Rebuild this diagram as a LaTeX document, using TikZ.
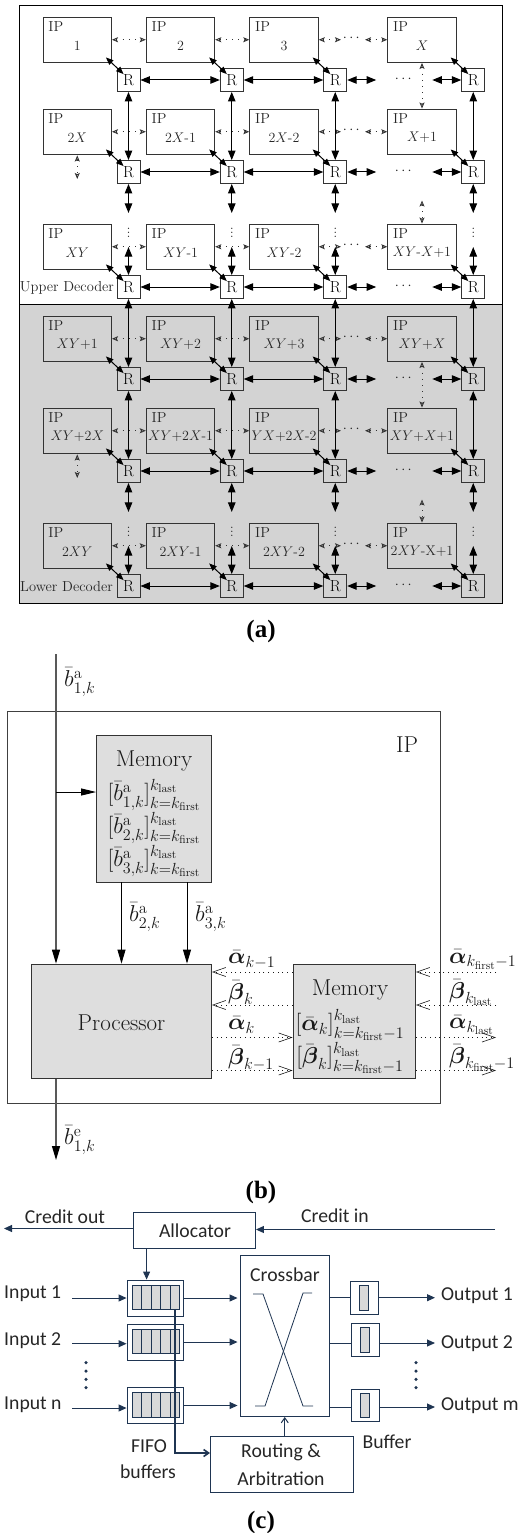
\documentclass[tikz,border=0pt]{standalone}
\usepackage{fix-cm}
\usepackage{amsmath}
\usepackage[no-math]{fontspec}
\usepackage{xcolor}
\usepackage{tikz}
\usetikzlibrary{arrows.meta, calc}
\newfontfamily\slidefont{Carlito}
\newfontfamily\capfont{Liberation Serif Bold}
\definecolor{decodergray}{HTML}{D3D3D3}
\definecolor{memgray}{HTML}{DEDEDE}
\definecolor{cellgray}{HTML}{D9D9D9}
\definecolor{routernavy}{HTML}{1F3552}
\newcommand{\memrow}[1]{$[\bar{b}^{\mathrm{a}}_{#1,k}]_{k=k_{\mathrm{first}}}^{k_{\mathrm{last}}}$}
\tikzset{
    ipbox/.style={draw=black!80, line width=0.9pt, minimum width=68.5pt, minimum height=45.5pt, inner sep=0pt},
    rbox/.style={draw=black!80, line width=0.9pt, minimum width=23pt, minimum height=23pt, inner sep=0pt, font=\fontsize{16}{16}\selectfont},
    iptext/.style={inner sep=0pt, text=black!85, font=\fontsize{14.5}{15}\selectfont},
    blocktext/.style={inner sep=0pt, text=black!90, font=\fontsize{23}{24}\selectfont},
    linklab/.style={blocktext, anchor=west},
    bidir/.style={line width=1pt, {Stealth[inset=0pt,length=9.5pt,width=7.5pt]}-{Stealth[inset=0pt,length=9.5pt,width=7.5pt]}},
    bidirs/.style={line width=1pt, {Stealth[inset=0pt,length=7.5pt,width=6pt]}-{Stealth[inset=0pt,length=7.5pt,width=6pt]}},
    ipdots/.style={dash pattern=on 1pt off 5.2pt, line width=0.9pt, black!80, {Stealth[open,length=6pt,width=5pt,inset=1.2pt]}-{Stealth[open,length=6pt,width=5pt,inset=1.2pt]}},
    membox/.style={draw=black!80, fill=memgray, line width=0.8pt, inner sep=0pt},
    flowline/.style={line width=0.9pt, black!85, -{Stealth[inset=0pt,length=11pt,width=7pt]}},
    dotflow/.style={dash pattern=on 1pt off 3.7pt, line width=0.9pt, black!90, -{Straight Barb[length=13pt,width=9pt,line width=0.6pt]}},
    navybox/.style={draw=routernavy, line width=0.9pt, inner sep=0pt},
    navyline/.style={routernavy, line width=1pt},
    navyflow/.style={routernavy, line width=1pt, -{Stealth[inset=0pt,length=8pt,width=7pt]}},
    navybarb/.style={routernavy, line width=1pt, -{Straight Barb[length=5pt,width=7pt]}},
    slidetext/.style={inner sep=0pt, text=black!85, font=\slidefont\fontsize{19.7}{20}\selectfont},
    navydot/.style={circle, fill=routernavy, minimum size=3.5pt, inner sep=0pt},
    captext/.style={inner sep=0pt, font=\capfont\fontsize{25}{26}\selectfont}
}

\begin{document}
\begin{tikzpicture}[x=1pt, y=-1pt]
    \useasboundingbox (0,0) rectangle (519,1533);

    \node[draw=black, line width=0.9pt, minimum width=482.5pt, minimum height=299pt, inner sep=0pt] (upperdec) at (260.75,154.5) {};
    \node[draw=black, fill=decodergray, line width=0.9pt, minimum width=482.5pt, minimum height=299pt, inner sep=0pt] (lowerdec) at (260.75,453.5) {};

    \foreach \r/\yy/\la/\lb/\lc/\ld in {
        1/39.75/{1}/{2}/{3}/{$X$},
        2/131.75/{$2X$}/{$2X$-1}/{$2X$-2}/{$X${+}1},
        3/246.75/{$XY$}/{$XY$-1}/{$XY$-2}/{$XY$-$X${+}1},
        4/338.75/{$XY${+}1}/{$XY${+}2}/{$XY${+}3}/{$XY${+}$X$},
        5/430.75/{$XY${+}$2X$}/{$XY${+}$2X$-1}/{$YX${+}$2X$-2}/{$XY${+}$X${+}1},
        6/545.75/{$2XY$}/{$2XY$-1}/{$2XY$-2}/{$2XY$-X+1}} {
        \foreach \c/\xx/\rx/\lab in {1/77.25/128.5/\la, 2/180.5/232/\lb, 3/284/335.5/\lc, 4/422/473.5/\ld} {
            \node[ipbox] (ip\r\c) at (\xx,\yy) {};
            \node[iptext] (ipt\r\c) at ([xshift=13.3pt,yshift=-10pt]ip\r\c.north west) {IP};
            \node[iptext, font=\fontsize{14}{14}\selectfont] (ipn\r\c) at ([yshift=-6pt]ip\r\c.center) {\lab};
            \node[rbox] (r\r\c) at ([shift={(51.25pt,-40.25pt)}]ip\r\c.center) {R};
            \draw[bidirs] ([shift={(-6pt,5.5pt)}]ip\r\c.south east) -- ([shift={(7pt,-6pt)}]r\r\c.north west);
        }
        \foreach \c/\d in {1/2,2/3} {
            \draw[ipdots] (ip\r\c.east) -- (ip\r\d.west);
            \draw[bidir] (r\r\c.east) -- (r\r\d.west);
        }
        \coordinate (ipa\r) at (341,\yy);
        \coordinate (ipb\r) at (365,\yy);
        \draw[ipdots] (ip\r3.east) -- (ipa\r);
        \draw[ipdots] (ipb\r) -- (ip\r4.west);
        \node[iptext] (ipc\r) at (352.5,\yy-1) {$\cdots$};
        \path (r\r3.east) -- ++(29,0) coordinate (ra\r);
        \path (r\r4.west) -- ++(-29,0) coordinate (rb\r);
        \draw[bidir] (r\r3.east) -- (ra\r);
        \draw[bidir] (rb\r) -- (r\r4.west);
        \node[iptext] (rc\r) at (404.5,\yy+39.5) {$\cdots$};
    }

    \foreach \c in {1,2,3,4} {
        \draw[bidir] (r1\c.south) -- (r2\c.north);
        \draw[bidir] (r3\c.south) -- (r4\c.north);
        \draw[bidir] (r4\c.south) -- (r5\c.north);
        \foreach \a/\b in {2/3,5/6} {
            \path (r\a\c.south) -- ++(0,29) coordinate (sa\a\c);
            \path (r\b\c.north) -- ++(0,-28) coordinate (sb\a\c);
            \draw[bidir] (r\a\c.south) -- (sa\a\c);
            \draw[bidir] (sb\a\c) -- (r\b\c.north);
            \node[iptext, font=\fontsize{16}{16}\selectfont] (vd\a\c) at ($(r\a\c.center)+(0,58)$) {$\vdots$};
        }
    }

    \foreach \a/\b in {1/2,4/5} {
        \draw[ipdots] (ip\a4.south) -- (ip\b4.north);
        \path (ip\b1.south) -- ++(0,0.5) coordinate (ua\b);
        \path (ip\b1.south) -- ++(0,24) coordinate (ub\b);
        \draw[ipdots] (ua\b) -- (ub\b);
    }
    \foreach \b/\c in {2/3,5/6} {
        \path (ip\c4.north) -- ++(0,-23) coordinate (ud\c);
        \draw[ipdots] (ud\c) -- (ip\c4.north);
    }

    \node[iptext] (upperlab) at (67,288) {Upper Decoder};
    \node[iptext] (lowerlab) at (66.5,587) {Lower Decoder};
    \node[captext] (capa) at (261,631) {(a)};

    \node[draw=black!75, line width=1pt, minimum width=433pt, minimum height=392pt, inner sep=0pt] (ipouter) at (223.5,907) {};
    \node[blocktext] (iplab) at (407,745) {IP};
    \node[membox, minimum width=115pt, minimum height=147pt] (memtop) at (154,808.5) {};
    \node[blocktext] (memtoplab) at (154,760.5) {Memory};
    \foreach \m/\my in {1/795,2/828,3/861} {
        \node[blocktext] (memr\m) at (154,\my) {\memrow{\m}};
    }
    \node[membox, minimum width=180pt, minimum height=114.5pt] (procb) at (121.5,1021.25) {};
    \node[blocktext] (proclab) at (121.5,1023) {Processor};
    \node[membox, minimum width=122.5pt, minimum height=114.5pt] (memright) at (354.25,1021.25) {};
    \node[blocktext] (memrightlab) at (350,990) {Memory};
    \node[blocktext] (memra) at (350,1025) {$[\bar{\boldsymbol{\alpha}}_k]_{k=k_{\mathrm{first}}-1}^{k_{\mathrm{last}}}$};
    \node[blocktext] (memrb) at (350,1058) {$[\bar{\boldsymbol{\beta}}_k]_{k=k_{\mathrm{first}}-1}^{k_{\mathrm{last}}}$};

    \coordinate (bin) at (56,654);
    \coordinate (bout) at (56,1160);
    \coordinate (bjoin) at (56,792);
    \draw[flowline, black!65, line width=1.2pt, -{Stealth[inset=0pt,length=14pt,width=8pt,black]}] (bin) -- (bin |- procb.north);
    \draw[flowline, black!65, line width=1.2pt, -{Stealth[inset=0pt,length=14pt,width=8pt,black]}] (bin |- procb.south) -- (bout);
    \draw[flowline, black, -{Stealth[inset=0pt,length=15pt,width=7pt]}] (bjoin) -- (bjoin -| memtop.west);
    \foreach \m/\fx in {two/121.5,three/187} {
        \coordinate (fd\m) at (\fx,900);
        \draw[flowline, black, -{Stealth[inset=0pt,length=14pt,width=8pt]}] (fd\m |- memtop.south) -- (fd\m |- procb.north);
    }
    \node[linklab] (lbin) at (64,682) {$\bar{b}^{\mathrm{a}}_{1,k}$};
    \node[linklab] (lbtwo) at (129,917) {$\bar{b}^{\mathrm{a}}_{2,k}$};
    \node[linklab] (lbthree) at (195,917) {$\bar{b}^{\mathrm{a}}_{3,k}$};
    \node[linklab] (lbout) at (64,1140) {$\bar{b}^{\mathrm{e}}_{1,k}$};

    \foreach \n/\ly/\llab/\rlab in {
        1/972/{$\bar{\boldsymbol{\alpha}}_{k-1}$}/{$\bar{\boldsymbol{\alpha}}_{k_{\mathrm{first}}-1}$},
        2/1005/{$\bar{\boldsymbol{\beta}}_{k}$}/{$\bar{\boldsymbol{\beta}}_{k_{\mathrm{last}}}$},
        3/1037.5/{$\bar{\boldsymbol{\alpha}}_{k}$}/{$\bar{\boldsymbol{\alpha}}_{k_{\mathrm{last}}}$},
        4/1070.5/{$\bar{\boldsymbol{\beta}}_{k-1}$}/{$\bar{\boldsymbol{\beta}}_{k_{\mathrm{first}}-1}$}} {
        \coordinate (lev\n) at (496,\ly);
        \node[linklab] (ll\n) at (228,\ly-12.5) {\llab};
        \node[linklab] (rl\n) at (449,\ly-12.5) {\rlab};
    }
    \foreach \n in {1,2} {
        \draw[dotflow] (lev\n -| memright.west) -- (lev\n -| procb.east);
        \draw[dotflow] (lev\n) -- (lev\n -| memright.east);
    }
    \foreach \n in {3,4} {
        \draw[dotflow] (lev\n -| procb.east) -- (lev\n -| memright.west);
        \draw[dotflow] (lev\n -| memright.east) -- (lev\n);
    }
    \node[captext] (capb) at (261,1192) {(b)};

    \node[navybox, minimum width=122pt, minimum height=36pt] (alloc) at (194.5,1230.5) {};
    \node[slidetext] (alloclab) at (195,1231) {Allocator};
    \coordinate (creditout) at (4,1228.5);
    \coordinate (creditin) at (495,1229.5);
    \draw[navyflow] (alloc.west |- creditout) -- (creditout);
    \draw[navyflow] (creditin) -- (creditin -| alloc.east);
    \node[slidetext] (colab) at (65,1217) {Credit out};
    \node[slidetext] (cilab) at (335,1216) {Credit in};

    \node[navybox, minimum width=89.5pt, minimum height=161.5pt] (cross) at (284.75,1335.75) {};
    \node[slidetext] (crosslab) at (285,1275) {Crossbar};
    \foreach \n/\px/\py in {a/253/1294, b/263/1294, c/303/1406, d/313/1406, e/312/1293, f/303/1293, g/265/1406, h/255/1406} {
        \coordinate (cr\n) at (\px,\py);
    }
    \draw[navyline, line width=0.8pt] (cra) -- (crb) -- (crc) -- (crd);
    \draw[navyline, line width=0.8pt] (cre) -- (crf) -- (crg) -- (crh);

    \foreach \f/\yy/\ia/\il/\ilab/\obx/\oby/\oa/\ol/\olab in {
        1/1298/1298/1294/Input 1/364/1297.7/1297.7/1295.5/Output 1,
        2/1342/1343.7/1341/Input 2/365/1339.7/1343/1343.5/Output 2,
        3/1405.5/1408/1405/Input n/365/1405.5/1407/1406/Output m} {
        \node[navybox, minimum width=56.5pt, minimum height=36pt] (fifo\f) at (155.25,\yy) {};
        \foreach \i in {0,...,4} {
            \node[navybox, fill=cellgray, minimum width=9.4pt, minimum height=24.5pt] (fc\f\i) at ({137.2+9.4*\i},\yy-0.5) {};
        }
        \coordinate (in\f) at (72,\ia);
        \draw[navyflow] (in\f) -- (in\f -| fifo\f.west);
        \draw[navyflow, shorten >=2pt] (fifo\f.east) -- (fifo\f.east -| cross.west);
        \node[navybox, minimum width=28pt, minimum height=32.5pt] (obuf\f) at (\obx,\oby) {};
        \node[navybox, fill=cellgray, minimum width=9.5pt, minimum height=24.5pt] (obc\f) at (\obx,\oby) {};
        \coordinate (ot\f) at (435,\oa);
        \draw[navyline] (ot\f -| cross.east) -- (ot\f -| obuf\f.west);
        \draw[navyflow] (ot\f -| obuf\f.east) -- (ot\f);
        \node[slidetext, anchor=west] (il\f) at (4,\il) {\ilab};
        \node[slidetext, anchor=west] (ol\f) at (441,\ol) {\olab};
    }
    \foreach \dy [count=\di] in {1362.7,1371,1379.3,1387.7} {
        \node[navydot] (ldot\di) at (86,\dy) {};
        \node[navydot] (rdot\di) at (416,\dy) {};
    }

    \node[navybox, minimum width=143pt, minimum height=56pt] (route) at (281.5,1464) {};
    \node[slidetext] (routelab) at (281,1452) {Routing \&};
    \node[slidetext] (arblab) at (281,1479) {Arbitration};
    \coordinate (routein) at (210,1453);
    \draw[navybarb, line width=1.6pt] (fc14.south) |- (routein);
    \draw[navybarb] (cross.south |- route.north) -- (cross.south);
    \draw[navyflow] (alloc.south -| fc11.center) -- (fifo1.north -| fc11.center);
    \node[slidetext] (fifolab) at (149,1446) {FIFO};
    \node[slidetext] (bufflab) at (148,1472) {buffers};
    \node[slidetext] (outlab) at (387,1442) {Buffer};
    \node[captext] (capc) at (261,1522) {(c)};
\end{tikzpicture}
\end{document}
